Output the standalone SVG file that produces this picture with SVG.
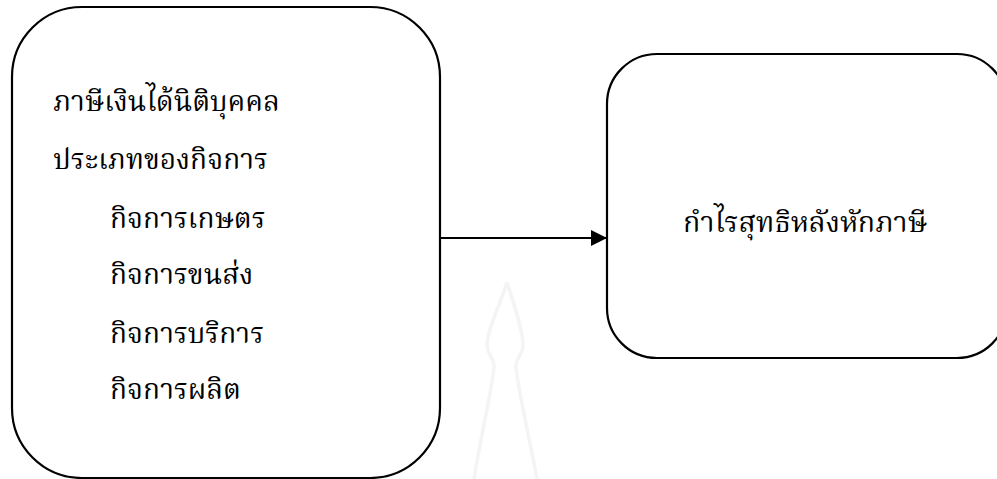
<svg xmlns="http://www.w3.org/2000/svg" width="997" height="479" viewBox="0 0 997 479">
<style>
.box{fill:none;stroke:#000;stroke-width:2.2}
.t{font-family:"Liberation Serif","Noto Serif Thai","Noto Sans Thai",serif;font-size:28px;fill:#000}
.wm{fill:none;stroke:#f4f4f4;stroke-width:3.5}
</style>
<defs>
<marker id="ah" markerWidth="16" markerHeight="16" refX="16" refY="8" orient="auto" markerUnits="userSpaceOnUse">
<path d="M0,0 L16,8 L0,16 Z" fill="#000"/>
</marker>
</defs>
<rect width="997" height="479" fill="#fff"/>
<path class="wm" d="M507,282 C500,305 487,330 487,345 C487,355 495,358 494,368 C490,400 480,440 474,479 M507,282 C514,305 523,330 523,345 C523,355 515,358 516,368 C520,400 530,440 537,479"/>
<g id="node-left">
<rect class="box" x="12" y="7" width="428" height="471" rx="70" ry="70"/>
<text class="t" x="53" y="111">ภาษีเงินได้นิติบุคคล</text>
<text class="t" x="53" y="169">ประเภทของกิจการ</text>
<text class="t" x="110" y="228">กิจการเกษตร</text>
<text class="t" x="110" y="284">กิจการขนส่ง</text>
<text class="t" x="110" y="343">กิจการบริการ</text>
<text class="t" x="110" y="399">กิจการผลิต</text>
</g>
<g id="node-right">
<rect class="box" x="607" y="54" width="400" height="304" rx="50" ry="50"/>
<text class="t" x="683" y="232" style="font-size:28.5px">กำไรสุทธิหลังหักภาษี</text>
</g>
<g id="connectors">
<line x1="440" y1="238" x2="607" y2="238" stroke="#000" stroke-width="2.2" marker-end="url(#ah)"/>
</g>
</svg>
